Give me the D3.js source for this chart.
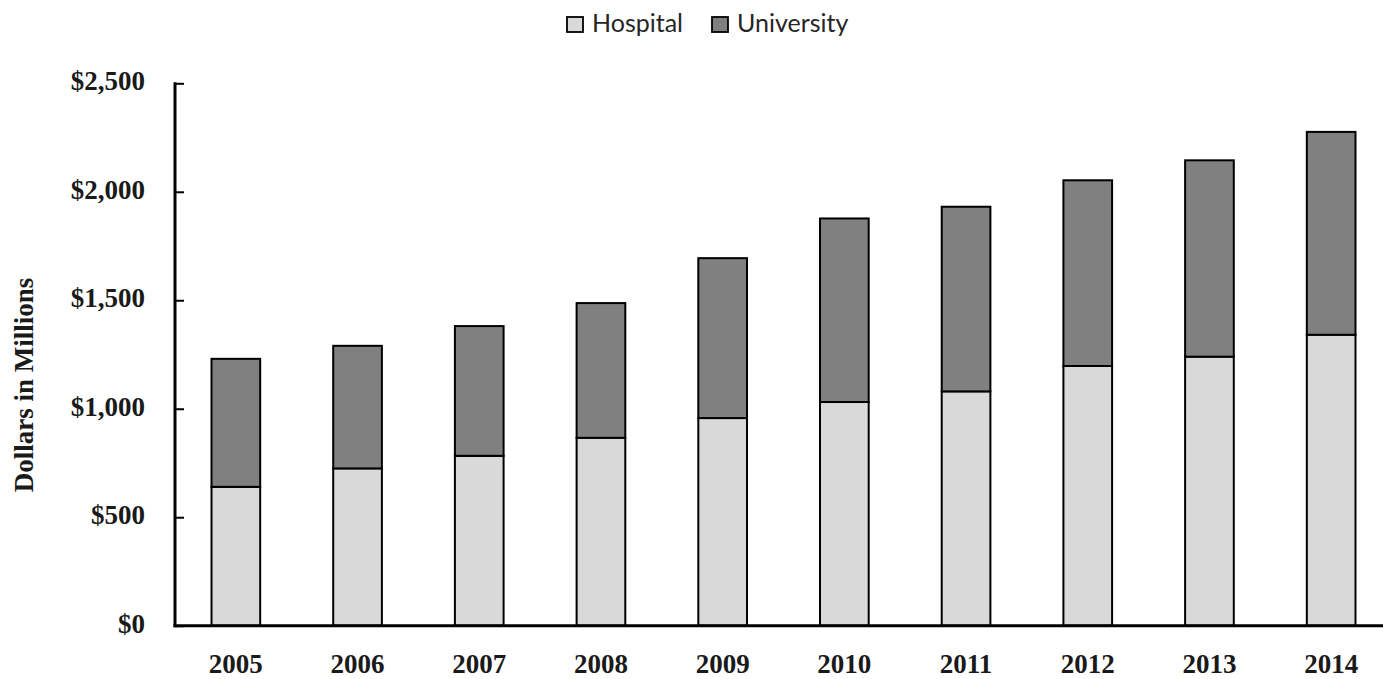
<!DOCTYPE html>
<html>
<head>
<meta charset="utf-8">
<script src="https://cdn.jsdelivr.net/npm/d3@7"></script>
<style>
  html, body { margin: 0; padding: 0; background: #fff; }
  svg { display: block; }
</style>
</head>
<body>
<svg id="chart" width="1383" height="679"></svg>
<script>
const years = ["2005","2006","2007","2008","2009","2010","2011","2012","2013","2014"];
const hospital = [640, 725, 783, 866, 957, 1031, 1080, 1197, 1240, 1341];
const university = [590, 565, 598, 621, 737, 846, 851, 856, 905, 935];
const seriesNames = ["Hospital", "University"];
const seriesColors = ["#d9d9d9", "#808080"];
const yTicks = [0, 500, 1000, 1500, 2000, 2500];
const yTitle = "Dollars in Millions";

const svg = d3.select("#chart");

const x = d3.scaleBand().domain(years).range([175, 1392]).paddingInner(0.6).paddingOuter(0.3);
const y = d3.scaleLinear().domain([0, 2500]).range([625.7, 83.3]);

const rows = years.map((yr, i) => ({ year: yr, Hospital: hospital[i], University: university[i] }));
const stacked = d3.stack().keys(seriesNames)(rows);

// bars
svg.append("g").selectAll("g").data(stacked).join("g")
  .attr("fill", (d, i) => seriesColors[i])
  .selectAll("rect").data(d => d).join("rect")
  .attr("x", d => x(d.data.year))
  .attr("y", d => y(d[1]))
  .attr("width", x.bandwidth())
  .attr("height", d => y(d[0]) - y(d[1]))
  .attr("stroke", "#000")
  .attr("stroke-width", 2);

// y axis
const yAxis = d3.axisRight(y).tickValues(yTicks).tickSize(9).tickFormat("");
const gy = svg.append("g").attr("transform", "translate(175,0)").call(yAxis);
gy.select(".domain").remove();
gy.selectAll(".tick line").attr("stroke", "#000").attr("stroke-width", 2);
svg.append("line").attr("x1", 175).attr("x2", 175).attr("y1", y(2500) - 1).attr("y2", y(0) + 1.5)
  .attr("stroke", "#000").attr("stroke-width", 3);

svg.append("g").selectAll("text").data(yTicks).join("text")
  .attr("x", 145).attr("y", d => y(d) + 7)
  .attr("text-anchor", "end")
  .attr("font-family", "'Liberation Serif', 'Times New Roman', serif")
  .attr("font-weight", "bold").attr("font-size", 27).attr("fill", "#1a1a1a")
  .text(d => d3.format("$,")(d));

// x axis
svg.append("line").attr("x1", 173.5).attr("x2", 1392).attr("y1", y(0)).attr("y2", y(0))
  .attr("stroke", "#000").attr("stroke-width", 3);
svg.append("g").selectAll("text").data(years).join("text")
  .attr("x", d => x(d) + x.bandwidth() / 2).attr("y", y(0) + 47)
  .attr("text-anchor", "middle")
  .attr("font-family", "'Liberation Serif', 'Times New Roman', serif")
  .attr("font-weight", "bold").attr("font-size", 27).attr("fill", "#1a1a1a")
  .text(d => d);

// y title
svg.append("text").attr("transform", "translate(33,385) rotate(-90)")
  .attr("text-anchor", "middle")
  .attr("font-family", "'Liberation Serif', 'Times New Roman', serif")
  .attr("font-weight", "bold").attr("font-size", 27).attr("fill", "#1a1a1a")
  .text(yTitle);

// legend
const legendX = [567, 712];
const lg = svg.append("g").selectAll("g").data(seriesNames).join("g")
  .attr("transform", (d, i) => `translate(${legendX[i]},0)`);
lg.append("rect").attr("x", 0).attr("y", 17).attr("width", 16).attr("height", 15)
  .attr("fill", (d, i) => seriesColors[i]).attr("stroke", "#000").attr("stroke-width", 1.8);
lg.append("text").attr("x", 25).attr("y", 32)
  .attr("font-family", "Lato, 'Open Sans', sans-serif").attr("font-size", 25).attr("fill", "#262626")
  .text(d => d);
</script>
</body>
</html>
